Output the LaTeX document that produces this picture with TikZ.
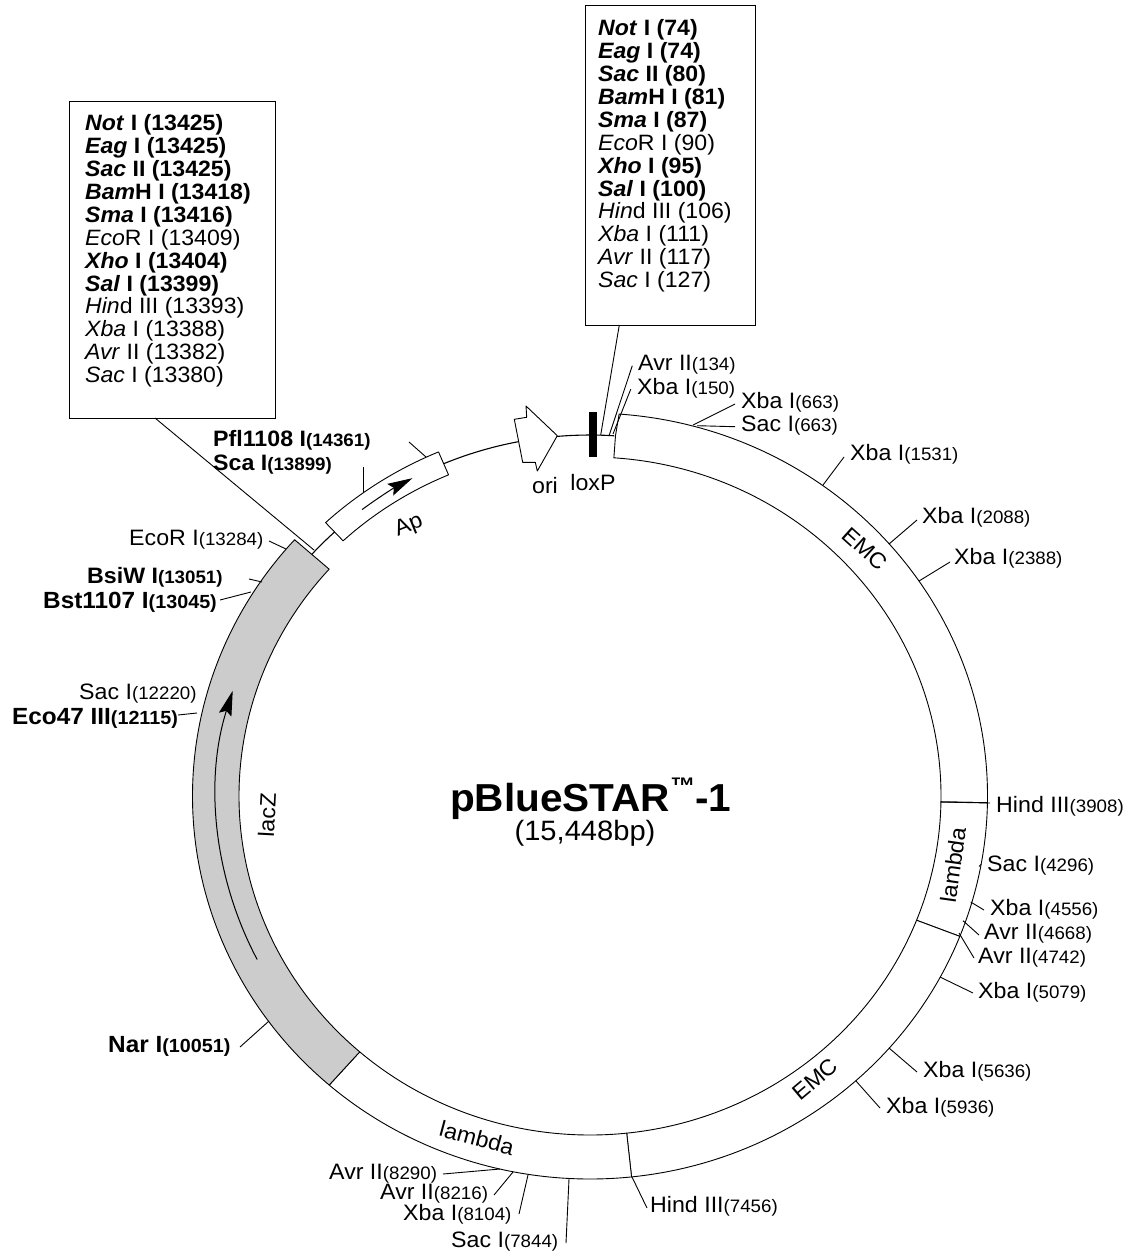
\documentclass[tikz,border=0pt]{standalone}
\usepackage{fontspec}
\setmainfont[FakeStretch=1.04]{Liberation Sans}
\usetikzlibrary{arrows.meta}
\newcommand\numsz{\fontsize{18}{18}\selectfont}
\newcommand\sitelab[2]{#1{\numsz(#2)}}
\newcommand\boldsite[2]{\textbf{#1{\numsz(#2)}}}
\newcommand\bigsite[2]{\textbf{\fontsize{23.4}{24}\selectfont #1{\fontsize{19}{19}\selectfont(#2)}}}
\newcommand\ringseg[3]{\draw[#3] (#1:397.5 and 383) arc[start angle=#1,end angle=#2,x radius=397.5,y radius=383] -- (#2:351 and 339) arc[start angle=#2,end angle=#1,x radius=351,y radius=339] -- cycle;}
\newcommand\uni[2]{\textbf{\textit{#1}#2}}
\newcommand\reg[2]{\textit{#1}#2}
\tikzset{
  lab/.style={inner sep=0pt,anchor=base west,font=\fontsize{22.3}{24}\selectfont},
  inlab/.style={inner sep=0pt,anchor=center,font=\fontsize{22.3}{24}\selectfont},
  tick/.style={line width=0.9pt},
  lbox/.style={draw,line width=0.9pt,fill=white,inner sep=0pt,anchor=north west},
  ltext/.style={inner sep=0pt,anchor=north west,align=left,font=\fontsize{22.2}{22.9}\selectfont},
  ringline/.style={line width=0.9pt,fill=white,line join=round},
  greyline/.style={line width=0.9pt,fill=ltgrey,line join=round},
}
\definecolor{ltgrey}{HTML}{CCCCCC}
\begin{document}
\begin{tikzpicture}[x=1pt,y=1pt]
\useasboundingbox (0,0) rectangle (1130,-1255);
% backbone and ring
\begin{scope}[shift={(590,-796)}]
\draw[line width=1.1pt] (138:374.5 and 361) arc[start angle=138,end angle=86.3,x radius=374.5,y radius=361];
\draw[ringline] (85.8:397.5 and 383) arc[start angle=85.8,end angle=-1,x radius=397.5,y radius=383] -- (-1:351 and 339) arc[start angle=-1,end angle=86.1,x radius=351,y radius=339] -- (86.1:374.5 and 361) -- cycle;
\ringseg{-1}{-21.5}{ringline}
\ringseg{-21.5}{-84}{ringline}
\ringseg{-84}{-131}{ringline}
\ringseg{-131}{-222}{greyline}
% Ap
\draw[ringline] (133:387.7 and 373.8) arc[start angle=133,end angle=113,x radius=387.7,y radius=373.8] -- (113:362 and 348.9) arc[start angle=113,end angle=133,x radius=362,y radius=348.9] -- cycle;
% feature arrows
\draw[line width=1pt,-{Stealth[length=25pt,width=13pt,inset=4pt]}] (207:373.6 and 360) arc[start angle=207,end angle=163,x radius=373.6,y radius=360];
\draw[line width=1pt,-{Stealth[length=25pt,width=13pt,inset=4pt]}] (127.5:374.5 and 361) arc[start angle=127.5,end angle=118.3,x radius=374.5,y radius=361];
\end{scope}
% ori
\draw[ringline] (514.3,-419.3) -- (526.7,-417.3) -- (526,-406) -- (557.3,-435.7) -- (537.3,-471) -- (535.3,-462.3) -- (522.7,-462.3) -- cycle;
% loxP
\node[fill=black,inner sep=0pt,minimum width=7.4pt,minimum height=45pt] (loxbar) at (593,-434.2) {};
% boxes
\node[lbox,minimum width=170pt,minimum height=320pt] (boxR) at (585,-5) {};
\node[lbox,minimum width=206pt,minimum height=317pt] (boxL) at (69,-101) {};
\coordinate (boxRa) at (619.3,-325);
\coordinate (boxRb) at (600.7,-435);
\draw[tick] (boxRa) -- (boxRb);
\coordinate (boxLa) at (155,-418);
\coordinate (boxLb) at (314,-550);
\draw[tick] (boxLa) -- (boxLb);
\node[ltext] (boxRtext) at (598,-19.5) {\uni{Not}{ I (74)}\\\uni{Eag}{ I (74)}\\\uni{Sac}{ II (80)}\\\uni{Bam}{H I (81)}\\\uni{Sma}{ I (87)}\\\reg{Eco}{R I (90)}\\\uni{Xho}{ I (95)}\\\uni{Sal}{ I (100)}\\\reg{Hin}{d III (106)}\\\reg{Xba}{ I (111)}\\\reg{Avr}{ II (117)}\\\reg{Sac}{ I (127)}};
\node[ltext] (boxLtext) at (85,-114.5) {\uni{Not}{ I (13425)}\\\uni{Eag}{ I (13425)}\\\uni{Sac}{ II (13425)}\\\uni{Bam}{H I (13418)}\\\uni{Sma}{ I (13416)}\\\reg{Eco}{R I (13409)}\\\uni{Xho}{ I (13404)}\\\uni{Sal}{ I (13399)}\\\reg{Hin}{d III (13393)}\\\reg{Xba}{ I (13388)}\\\reg{Avr}{ II (13382)}\\\reg{Sac}{ I (13380)}};
% site labels
\node[lab] (a134) at (638,-370.5) {\sitelab{Avr II}{134}};
\node[lab] (x150) at (637,-394.5) {\sitelab{Xba I}{150}};
\node[lab] (x663) at (741,-408) {\sitelab{Xba I}{663}};
\node[lab] (s663) at (741,-431) {\sitelab{Sac I}{663}};
\node[lab] (x1531) at (850,-460) {\sitelab{Xba I}{1531}};
\node[lab] (x2088) at (922,-523) {\sitelab{Xba I}{2088}};
\node[lab] (x2388) at (954,-564) {\sitelab{Xba I}{2388}};
\node[lab] (h3908) at (996,-812) {\sitelab{Hind III}{3908}};
\node[lab] (s4296) at (987,-871) {\sitelab{Sac I}{4296}};
\node[lab] (x4556) at (990,-915) {\sitelab{Xba I}{4556}};
\node[lab] (a4668) at (984,-939) {\sitelab{Avr II}{4668}};
\node[lab] (a4742) at (978,-963) {\sitelab{Avr II}{4742}};
\node[lab] (x5079) at (978,-998) {\sitelab{Xba I}{5079}};
\node[lab] (x5636) at (923,-1077) {\sitelab{Xba I}{5636}};
\node[lab] (x5936) at (886,-1113) {\sitelab{Xba I}{5936}};
\node[lab] (h7456) at (650,-1212) {\sitelab{Hind III}{7456}};
\node[lab] (s7844) at (451,-1247) {\sitelab{Sac I}{7844}};
\node[lab] (x8104) at (403,-1220) {\sitelab{Xba I}{8104}};
\node[lab] (a8216) at (380,-1199) {\sitelab{Avr II}{8216}};
\node[lab] (a8290) at (329,-1179) {\sitelab{Avr II}{8290}};
\node[lab] (n10051) at (108,-1052) {\bigsite{Nar I}{10051}};
\node[lab] (e12115) at (12,-724) {\bigsite{Eco47 III}{12115}};
\node[lab] (s12220) at (79,-699) {\sitelab{Sac I}{12220}};
\node[lab] (b13045) at (43,-608) {\bigsite{Bst1107 I}{13045}};
\node[lab] (b13051) at (87,-583) {\boldsite{BsiW I}{13051}};
\node[lab] (e13284) at (129,-545) {\sitelab{EcoR I}{13284}};
\node[lab] (p14361) at (213,-446) {\boldsite{Pfl1108 I}{14361}};
\node[lab] (s13899) at (213,-470) {\boldsite{Sca I}{13899}};
% ticks
\foreach \n/\xa/\ya/\xb/\yb in {
 ta134/632.3/-365.7/609.3/-435, tx150/630.7/-389.3/613/-434, tx663/735/-404/693/-425, ts663/735/-426.7/697/-425.7,
 tx1531/844/-457/823/-485, tx2088/917/-520/889/-544, tx2388/950/-562/919/-581, th3908/990/-803/940/-802,
 ts4296/981/-864.5/979/-866.5, tx4556/984/-910/970.7/-902, ta4668/979/-935/963/-920.7, ta4742/974/-958/959/-933,
 tx5079/973/-993/940/-977, tx5636/917/-1072/889/-1048, tx5936/880/-1108/856/-1081, th7456/647/-1208/632/-1177,
 ts7844/566/-1243/569/-1179, tx8104/519/-1214/528/-1175, ta8216/494/-1195/513/-1172, ta8290/443/-1174/500/-1169,
 tn10051/240/-1047/269/-1021, te12115/178/-715/197/-713, tb13045/220/-600/251/-592, tb13051/249/-579/262/-582,
 te13284/269/-541/286/-549, tp14361/409/-442/426/-457, ts13899/363/-467/363/-493}{
 \coordinate (\n a) at (\xa,\ya);
 \coordinate (\n b) at (\xb,\yb);
 \draw[tick] (\n a) -- (\n b);
}
% inner labels
\node[inlab,rotate=22] (ap) at (409,-526) {Ap};
\node[inlab] (ori) at (545,-486) {ori};
\node[inlab] (loxp) at (593,-483) {loxP};
\node[inlab,rotate=-42] (emc1) at (865,-549) {EMC};
\node[inlab,rotate=82] (lam1) at (953,-865) {lambda};
\node[inlab,rotate=87] (lacz) at (267,-815) {lacZ};
\node[inlab,rotate=40] (emc2) at (815,-1079) {EMC};
\node[inlab,rotate=-15] (lam2) at (477,-1138) {lambda};
% title
\node[inner sep=0pt,anchor=base west,font=\fontsize{39}{39}\selectfont\bfseries] (title) at (450,-811) {pBlueSTAR\raisebox{16.5pt}{\fontsize{24}{24}\selectfont ™}-1};
\node[inner sep=0pt,anchor=base,font=\fontsize{28}{28}\selectfont] (size) at (585,-840) {(15,448bp)};
\end{tikzpicture}
\end{document}
